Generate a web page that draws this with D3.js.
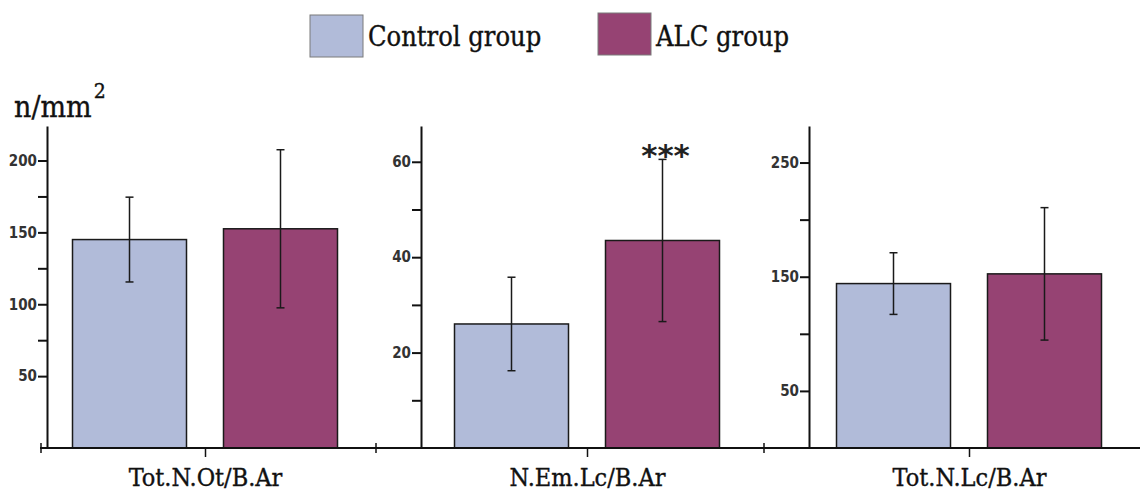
<!DOCTYPE html>
<html>
<head>
<meta charset="utf-8">
<script src="https://cdn.jsdelivr.net/npm/d3@7"></script>
<style>
  html, body { margin: 0; padding: 0; background: #fff; }
  svg { display: block; }
  .y-axis text { font-family: "DejaVu Sans Condensed", "DejaVu Sans", sans-serif; font-stretch: condensed; font-weight: bold; font-size: 15px; fill: #333; }
  .y-axis path, .y-axis line { stroke: #111; stroke-width: 2px; }
  .x-axis text { font-family: "DejaVu Serif", serif; font-stretch: condensed; font-size: 25px; fill: #111; stroke: #111; stroke-width: 0.35px; }
  .x-axis line { stroke: #111; stroke-width: 1.5px; }
  .serif { font-family: "DejaVu Serif", serif; font-stretch: condensed; fill: #111; stroke: #111; stroke-width: 0.35px; }
  .bar { stroke: #1a1a1a; stroke-width: 1.5px; }
  .err { stroke: #1a1a1a; stroke-width: 1.5px; }
</style>
</head>
<body>
<div id="chart"></div>
<script>
  // Categories and groups
  var categories = ['Tot.N.Ot/B.Ar', 'N.Em.Lc/B.Ar', 'Tot.N.Lc/B.Ar'];
  var groups = ['Control group', 'ALC group'];

  // Means and standard deviations
  var controlMean = [145, 26, 144];
  var controlSd = [29.5, 9.8, 27];
  var alcMean = [152.5, 43.5, 152.5];
  var alcSd = [55, 17, 58];

  // Per-panel y domain tops and ticks
  var yMax = [224, 67.5, 282];
  var majorTicks = [[50, 100, 150, 200], [20, 40, 60], [50, 150, 250]];
  var minorTicks = [[75, 125, 175], [10, 30, 50], [100, 200]];
  var significance = ['', '***', ''];

  var colors = { 'Control group': '#b1bbd9', 'ALC group': '#964373' };

  var width = 1140;
  var height = 493;
  var baseY = 448;
  var topY = 126;
  var axisX = [47, 421, 809];

  var svg = d3.select('#chart')
    .append('svg')
    .attr('width', width)
    .attr('height', height);

  // Category centres along the shared x axis
  var xCat = d3.scalePoint().domain(categories).range([205, 969]);

  // Legend
  var legendX = [310, 598];
  groups.forEach(function (g, i) {
    var lg = svg.append('g').attr('transform', 'translate(' + legendX[i] + ',0)');
    lg.append('rect')
      .attr('x', 0).attr('y', i === 0 ? 15 : 13)
      .attr('width', 53).attr('height', 42)
      .attr('fill', colors[g])
      .attr('stroke', '#7a7a7a')
      .attr('stroke-width', 1);
    lg.append('text')
      .attr('class', 'serif')
      .attr('x', 58).attr('y', 46)
      .attr('font-size', 27)
      .text(g);
  });

  // Unit label
  var unit = svg.append('text')
    .attr('class', 'serif')
    .attr('x', 14).attr('y', 117)
    .attr('font-size', 30);
  unit.append('tspan').text('n/mm');
  unit.append('tspan').attr('font-size', 21).attr('dy', -19).attr('dx', 2).text('2');

  categories.forEach(function (cat, i) {
    var y = d3.scaleLinear().domain([0, yMax[i]]).range([baseY, topY]);
    var c = xCat(cat);
    var x = d3.scaleBand().domain(groups).range([c - 132.5, c + 132.5]).paddingInner(0.245);

    var panel = svg.append('g').attr('class', 'panel');

    // Y axis with labelled major ticks and plain minor ticks
    panel.append('g')
      .attr('class', 'y-axis')
      .attr('transform', 'translate(' + axisX[i] + ',0)')
      .call(d3.axisLeft(y).tickValues(majorTicks[i]).tickSize(9).tickSizeOuter(0).tickPadding(1));

    panel.append('g')
      .attr('class', 'y-axis')
      .attr('transform', 'translate(' + axisX[i] + ',0)')
      .call(d3.axisLeft(y).tickValues(minorTicks[i]).tickSize(9).tickSizeOuter(0).tickFormat(''))
      .select('.domain').remove();

    var rows = [
      { g: groups[0], mean: controlMean[i], sd: controlSd[i] },
      { g: groups[1], mean: alcMean[i], sd: alcSd[i] }
    ];

    panel.selectAll('.bar')
      .data(rows)
      .enter()
      .append('rect')
      .attr('class', 'bar')
      .attr('x', function (d) { return x(d.g); })
      .attr('y', function (d) { return y(d.mean); })
      .attr('width', x.bandwidth())
      .attr('height', function (d) { return baseY - y(d.mean); })
      .attr('fill', function (d) { return colors[d.g]; });

    var err = panel.selectAll('.errbar')
      .data(rows)
      .enter()
      .append('g')
      .attr('class', 'errbar')
      .attr('transform', function (d) { return 'translate(' + (x(d.g) + x.bandwidth() / 2) + ',0)'; });

    err.append('line').attr('class', 'err')
      .attr('y1', function (d) { return y(d.mean + d.sd); })
      .attr('y2', function (d) { return y(d.mean - d.sd); });
    err.append('line').attr('class', 'err')
      .attr('x1', -4).attr('x2', 4)
      .attr('y1', function (d) { return y(d.mean + d.sd); })
      .attr('y2', function (d) { return y(d.mean + d.sd); });
    err.append('line').attr('class', 'err')
      .attr('x1', -4).attr('x2', 4)
      .attr('y1', function (d) { return y(d.mean - d.sd); })
      .attr('y2', function (d) { return y(d.mean - d.sd); });

    if (significance[i]) {
      panel.append('text')
        .attr('x', x(groups[1]) + x.bandwidth() / 2 + 3)
        .attr('y', y(alcMean[i] + alcSd[i]) + 7)
        .attr('text-anchor', 'middle')
        .attr('font-family', '"DejaVu Sans", sans-serif')
        .attr('font-weight', 'bold')
        .attr('font-size', 31)
        .attr('fill', '#222')
        .text(significance[i]);
    }

    // Separator tick left of each panel
    svg.append('line')
      .attr('x1', i === 0 ? axisX[i] - 6 : axisX[i] - 45)
      .attr('x2', i === 0 ? axisX[i] - 6 : axisX[i] - 45)
      .attr('y1', baseY - 5).attr('y2', baseY + 5)
      .attr('stroke', '#111').attr('stroke-width', 1.5);
  });

  // Shared x axis
  var xAxis = svg.append('g')
    .attr('class', 'x-axis')
    .attr('transform', 'translate(0,' + baseY + ')')
    .call(d3.axisBottom(xCat).tickSize(9).tickSizeOuter(0).tickPadding(11));
  xAxis.select('.domain').remove();

  svg.append('line')
    .attr('x1', 40).attr('x2', width)
    .attr('y1', baseY).attr('y2', baseY)
    .attr('stroke', '#111').attr('stroke-width', 2);
</script>
</body>
</html>
